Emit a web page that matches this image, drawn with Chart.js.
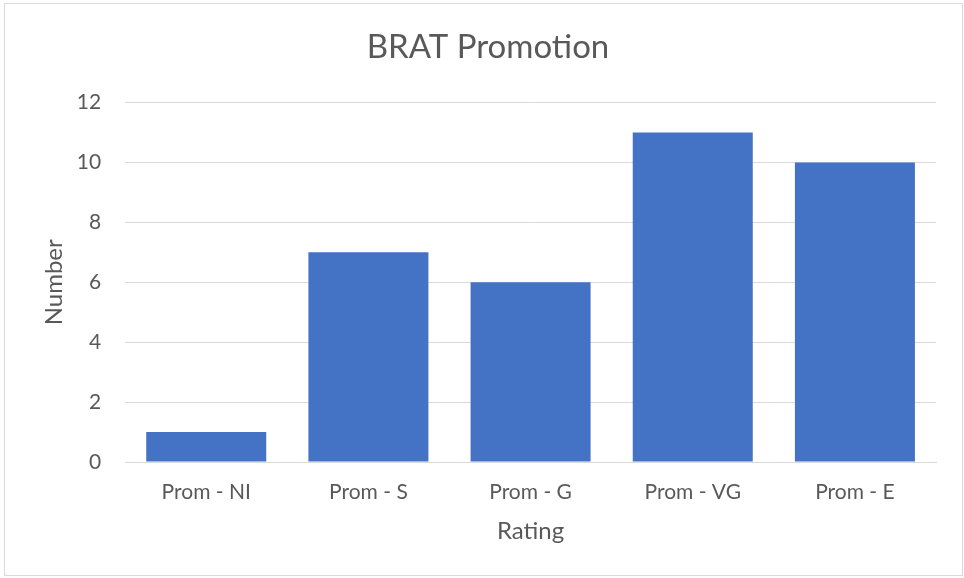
<!DOCTYPE html>
<html><head><meta charset="utf-8">
<script src="https://cdn.jsdelivr.net/npm/chart.js@4/dist/chart.umd.min.js"></script>
<style>
html,body{margin:0;padding:0;background:#fff;overflow:hidden;}
canvas{display:block;position:absolute;left:0;top:0;}
#frame{position:absolute;left:4px;top:3px;width:959px;height:573px;border:1px solid #d9d9d9;box-sizing:border-box;pointer-events:none;}
</style></head>
<body>
<canvas id="c" width="964" height="578"></canvas>
<div id="frame"></div>
<script>
const categories = ["Prom - NI", "Prom - S", "Prom - G", "Prom - VG", "Prom - E"];
const values = [1, 7, 6, 11, 10];
const title = "BRAT Promotion";
const xTitle = "Rating";
const yTitle = "Number";
const FONT = "Lato, 'Open Sans', sans-serif";
new Chart(document.getElementById('c'), {
  type: 'bar',
  data: { labels: categories, datasets: [{ data: values, backgroundColor: '#4472C4', barPercentage: 0.74, categoryPercentage: 1.0 }] },
  options: {
    responsive: false, animation: false,
    layout: { padding: { left: 40, right: 28, top: 28, bottom: 32 } },
    plugins: {
      legend: { display: false }, tooltip: { enabled: false },
      title: { display: true, text: title, color: '#595959', font: { family: FONT, size: 33, weight: 'normal' }, padding: { top: 0, bottom: 35 } }
    },
    scales: {
      x: {
        grid: { display: false, drawTicks: false },
        border: { color: '#d9d9d9' },
        ticks: { color: '#595959', font: { family: FONT, size: 21 }, padding: 18 },
        title: { display: true, text: xTitle, color: '#595959', font: { family: FONT, size: 24 }, padding: { top: -6, bottom: 0 } }
      },
      y: {
        min: 0, max: 12,
        grid: { color: '#d9d9d9', drawTicks: false },
        border: { display: false },
        ticks: { stepSize: 2, color: '#595959', font: { family: FONT, size: 21 }, padding: 24 },
        title: { display: true, text: yTitle, color: '#595959', font: { family: FONT, size: 24 }, padding: { top: 0, bottom: -16 } }
      }
    }
  }
});
</script>
</body></html>
